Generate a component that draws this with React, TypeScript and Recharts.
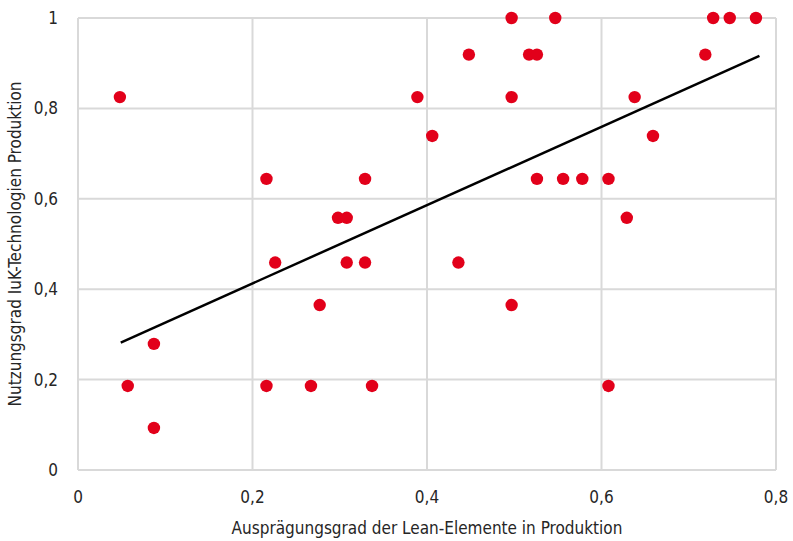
import React from 'react';
import { ScatterChart, Scatter, XAxis, YAxis, CartesianGrid } from 'recharts';

// Ausprägungsgrad der Lean-Elemente (x) vs. Nutzungsgrad IuK-Technologien (y)
const leanValues = [
  0.048, 0.216, 0.329, 0.298, 0.308, 0.226, 0.308, 0.329, 0.497, 0.547,
  0.728, 0.747, 0.777, 0.448, 0.517, 0.526, 0.719, 0.389, 0.497, 0.638,
  0.406, 0.659, 0.526, 0.556, 0.578, 0.608, 0.629, 0.436, 0.087, 0.057,
  0.087, 0.216, 0.267, 0.337, 0.277, 0.497, 0.608
];
const iukValues = [
  0.825, 0.644, 0.644, 0.558, 0.558, 0.459, 0.459, 0.459, 1.0, 1.0,
  1.0, 1.0, 1.0, 0.919, 0.919, 0.919, 0.919, 0.825, 0.825, 0.825,
  0.739, 0.739, 0.644, 0.644, 0.644, 0.644, 0.558, 0.459, 0.279, 0.186,
  0.093, 0.186, 0.186, 0.186, 0.365, 0.365, 0.186
];

// linear trend line, start and end
const trendX = [0.049, 0.781];
const trendY = [0.282, 0.916];

const xTicks = [0, 0.2, 0.4, 0.6, 0.8];
const yTicks = [0, 0.2, 0.4, 0.6, 0.8, 1];

const points = leanValues.map((x, i) => ({ x, y: iukValues[i] }));
const trend = trendX.map((x, i) => ({ x, y: trendY[i] }));

const fmt = (v: number) => String(v).replace('.', ',');

const font = '"Liberation Sans Narrow", "DejaVu Sans Condensed", sans-serif';
const gridColor = '#d9d9d9';
const dotColor = '#e2001a';

const Dot = (p: any) => <circle cx={p.cx} cy={p.cy} r={6.2} fill={dotColor} />;

export default function App() {
  return (
    <div style={{ position: 'absolute', left: 0, top: 0, background: '#fff' }}>
      <ScatterChart
        width={793}
        height={541}
        margin={{ top: 18, right: 17, bottom: 0, left: 0 }}
        style={{ fontFamily: font }}
      >
        <CartesianGrid stroke={gridColor} strokeWidth={2} />
        <XAxis
          type="number"
          dataKey="x"
          domain={[0, 0.8]}
          ticks={xTicks}
          tickFormatter={fmt}
          height={71}
          tickSize={0}
          tickMargin={21}
          axisLine={{ stroke: gridColor, strokeWidth: 2 }}
          tick={{ fill: '#262626', fontSize: 17 }}
          label={{
            value: 'Ausprägungsgrad der Lean-Elemente in Produktion',
            position: 'insideBottom',
            offset: 7,
            fill: '#262626',
            fontSize: 17,
          }}
        />
        <YAxis
          type="number"
          dataKey="y"
          domain={[0, 1]}
          ticks={yTicks}
          tickFormatter={fmt}
          width={78}
          tickSize={0}
          tickMargin={20}
          axisLine={{ stroke: gridColor, strokeWidth: 2 }}
          tick={{ fill: '#262626', fontSize: 17 }}
          label={{
            value: 'Nutzungsgrad IuK-Technologien Produktion',
            angle: -90,
            position: 'insideLeft',
            offset: 15,
            fill: '#262626',
            fontSize: 17,
            style: { textAnchor: 'middle' },
          }}
        />
        <Scatter data={points} shape={Dot} isAnimationActive={false} />
        <Scatter
          data={trend}
          line={{ stroke: '#000', strokeWidth: 2.5 }}
          shape={() => <g />}
          isAnimationActive={false}
        />
      </ScatterChart>
    </div>
  );
}
